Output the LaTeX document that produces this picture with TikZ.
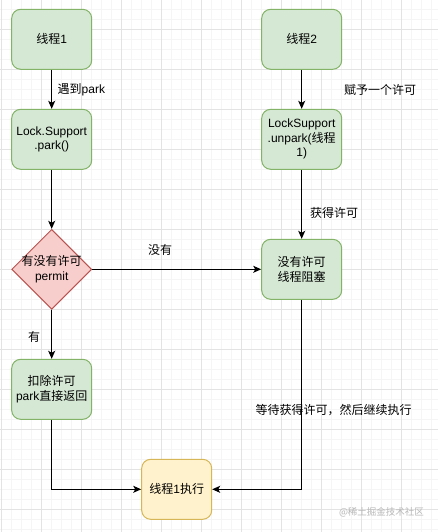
\documentclass[tikz,border=0pt]{standalone}
\usepackage{fontspec}
\setmainfont{Liberation Sans}
\newfontfamily\cjk{Noto Sans CJK SC}
\usetikzlibrary{shapes.geometric,arrows.meta}

\definecolor{gfill}{HTML}{D5E8D4}
\definecolor{gline}{HTML}{82B366}
\definecolor{rfill}{HTML}{F8CECC}
\definecolor{rline}{HTML}{B85450}
\definecolor{yfill}{HTML}{FFF2CC}
\definecolor{yline}{HTML}{D6B656}
\definecolor{gridmajor}{HTML}{E3E3E3}
\definecolor{gridminor}{HTML}{F5F5F5}

\tikzset{
  box/.style={draw=gline, fill=gfill, line width=1pt, rounded corners=9pt,
    minimum width=80pt, minimum height=60pt, inner sep=2pt, align=center,
    font=\fontsize{12}{14.5}\selectfont},
  runbox/.style={box, draw=yline, fill=yfill, minimum width=70pt},
  choice/.style={diamond, draw=rline, fill=rfill, line width=1pt, aspect=1,
    minimum width=80pt, minimum height=80pt, inner sep=0pt},
  lbl/.style={inner sep=0pt, font=\fontsize{12}{14.5}\selectfont},
  flow/.style={line width=1.1pt, -{Stealth[length=8pt,width=7pt,inset=2pt]}},
}

\begin{document}
\begin{tikzpicture}[x=1pt, y=-1pt]

  %% ════ 背景网格 ════
  \fill[white] (0,0) rectangle (438,532);
  \foreach \gx in {1.7,11.7,...,438} \draw[gridminor, line width=0.8pt] (\gx,0) -- (\gx,532);
  \foreach \gy in {9.3,19.3,...,532} \draw[gridminor, line width=0.8pt] (0,\gy) -- (438,\gy);
  \foreach \gx in {1.7,41.7,...,438} \draw[gridmajor, line width=0.9pt] (\gx,0) -- (\gx,532);
  \foreach \gy in {29.3,69.3,...,532} \draw[gridmajor, line width=0.9pt] (0,\gy) -- (438,\gy);

  %% ════ 节点 ════
  \node[box] (t1) at (51.7,39.3) {{\cjk 线程}1};
  \node[box] (park) at (51.7,139.3) {Lock.Support\\.park()};
  \node[choice, label={[lbl, align=center]center:{\cjk 有没有许可}\\permit}] (perm) at (51.7,269.3) {};
  \node[box] (ret) at (51.7,389.3) {{\cjk 扣除许可}\\park{\cjk 直接返回}};

  \node[box] (t2) at (301.7,39.3) {{\cjk 线程}2};
  \node[box] (unpark) at (301.7,139.3) {LockSupport\\.unpark({\cjk 线程}\\1)};
  \node[box] (block) at (301.7,269.3) {{\cjk 没有许可}\\{\cjk 线程阻塞}};

  \node[runbox] (run) at (176.7,489.3) {{\cjk 线程}1{\cjk 执行}};

  %% ════ 连线 ════
  \draw[flow] (t1) -- (park);
  \draw[flow] (park) -- (perm);
  \draw[flow] (perm) -- (ret);
  \draw[flow] (perm) -- (block);
  \draw[flow] (t2) -- (unpark);
  \draw[flow] (unpark) -- (block);
  \draw[flow] (ret) |- (run);
  \draw[flow] (block) |- (run);

  %% ════ 连线标签 ════
  \node[lbl, anchor=west] (lpark) at (57.5,90) {{\cjk 遇到}park};
  \node[lbl] (lgive) at (380,90) {\cjk 赋予一个许可};
  \node[lbl] (lget) at (334,212.7) {\cjk 获得许可};
  \node[lbl] (lno) at (160,250) {\cjk 没有};
  \node[lbl] (lyes) at (34,336.7) {\cjk 有};
  \node[lbl] (lwait) at (333.5,410) {\cjk 等待获得许可，然后继续执行};

  %% ════ 水印 ════
  \node[inner sep=0pt, text=black!28, font=\fontsize{9.5}{11}\selectfont] (mark) at (381.5,512) {\cjk @稀土掘金技术社区};

  \pgfresetboundingbox
  \path[use as bounding box] (0,0) rectangle (438,532);
\end{tikzpicture}
\end{document}
